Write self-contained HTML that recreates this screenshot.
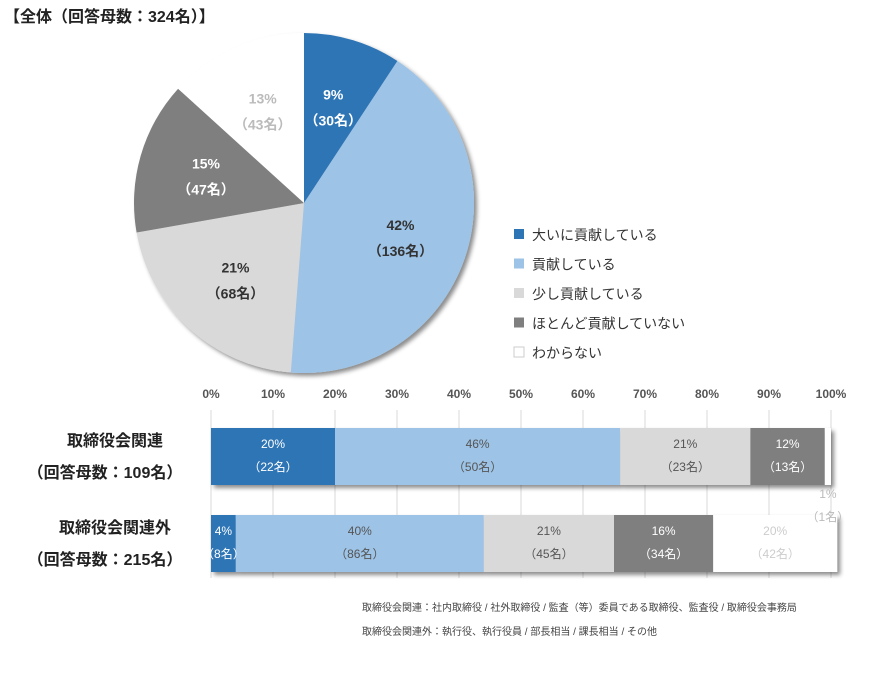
<!DOCTYPE html>
<html><head><meta charset="utf-8"><style>
body{margin:0;background:#fff;font-family:"Liberation Sans","Noto Sans CJK JP",sans-serif;}
svg text{font-family:"Liberation Sans","Noto Sans CJK JP",sans-serif;}
</style></head><body>
<svg id="c" width="886" height="675" xmlns="http://www.w3.org/2000/svg">
<defs><filter id="sh" x="-10%" y="-10%" width="130%" height="130%"><feDropShadow dx="3" dy="3" stdDeviation="2" flood-color="#000" flood-opacity="0.45"/></filter></defs>
<text x="4" y="22" font-size="16" font-weight="bold" fill="#222">【全体（回答母数：324名）】</text>
<g id="pie" filter="url(#sh)"></g>
<g id="pielabels"></g>
<g id="legend"></g>
<g id="grid"></g>
<g id="bars"></g>
<g id="barlabels"></g>
<text x="362" y="611" font-size="10" fill="#444">取締役会関連：社内取締役 / 社外取締役 / 監査（等）委員である取締役、監査役 / 取締役会事務局</text>
<text x="362" y="635" font-size="10" fill="#444">取締役会関連外：執行役、執行役員 / 部長相当 / 課長相当 / その他</text>
</svg>
<script>
const categories=["大いに貢献している","貢献している","少し貢献している","ほとんど貢献していない","わからない"];
const colors=["#2e75b6","#9dc3e6","#d9d9d9","#7f7f7f","#ffffff"];
const labelColors=["#fff","#333","#333","#fff","#bbb"];
const pieCounts=[30,136,68,47,43];
const piePcts=[9,42,21,15,13];
const groups=["取締役会関連","取締役会関連外"];
const groupN=[109,215];
const barPcts=[[20,46,21,12,1],[4,40,21,16,20]];
const barCounts=[[22,50,23,13,1],[8,86,45,34,42]];
const ticks=[0,10,20,30,40,50,60,70,80,90,100];
const NS="http://www.w3.org/2000/svg";
function mk(t,a,p){const e=document.createElementNS(NS,t);for(const k in a)e.setAttribute(k,a[k]);p.appendChild(e);return e;}
// pie
const cx=304,cy=203,R=170,total=pieCounts.reduce((a,b)=>a+b,0);
let ang=0;const pie=document.getElementById('pie'),pl=document.getElementById('pielabels');
pieCounts.forEach((v,i)=>{const a0=ang,a1=ang+v/total*2*Math.PI;ang=a1;
 const p=(a)=>[cx+R*Math.sin(a),cy-R*Math.cos(a)];const [x0,y0]=p(a0),[x1,y1]=p(a1);
 const e=mk('path',{d:`M${cx},${cy}L${x0},${y0}A${R},${R} 0 ${a1-a0>Math.PI?1:0} 1 ${x1},${y1}Z`,fill:colors[i]},pie);
 
 
 const m=(a0+a1)/2,r=R*0.6,lx=cx+r*Math.sin(m),ly=cy-r*Math.cos(m);
 const t1=mk('text',{x:lx,y:ly-6,'text-anchor':'middle','font-size':14,'font-weight':'bold',fill:labelColors[i]},pl);t1.textContent=piePcts[i]+'%';
 
 
 const t2=mk('text',{x:lx,y:ly+20,'text-anchor':'middle','font-size':14,'font-weight':'bold',fill:labelColors[i]},pl);t2.textContent='（'+v+'名）';
 
 
});
// legend
const lg=document.getElementById('legend');
categories.forEach((c,i)=>{const y=238+i*29.5;
 const r=mk('rect',{x:514,y:y-9,width:10,height:10,fill:colors[i],stroke:i==4?'#ccc':'none'},lg);
 
 
 const t=mk('text',{x:532,y:y+2,'font-size':14,fill:'#333'},lg);t.textContent=c;
 
 
});
// bar axis
const X0=211,X1=831,xs=v=>X0+(X1-X0)*v/100;
const gr=document.getElementById('grid');
ticks.forEach(t=>{const l=mk('line',{x1:xs(t),x2:xs(t),y1:410,y2:578,stroke:'#d9d9d9'},gr);
 
 
 const tx=mk('text',{x:xs(t),y:398,'text-anchor':'middle','font-size':12,'font-weight':'bold',fill:'#555'},gr);tx.textContent=t+'%';
 
 
});
const bg=document.getElementById('bars'),bl=document.getElementById('barlabels');
const barY=[428,515],barH=57;
groups.forEach((g,gi)=>{let acc=0;const y=barY[gi];
 const gg=mk('g',{filter:'url(#sh)'},bg);
 barPcts[gi].forEach((v,i)=>{const x=xs(acc);acc+=v;const w=xs(acc)-x;
  const r=mk('rect',{x:x,y:y,width:w,height:barH,fill:colors[i]},gg);
  
  
  let lx=x+w/2,ly=y+20,col=labelColors[i]=="#fff"&&i==0?'#fff':(i==3?'#fff':(i==4?'#ccc':'#555'));
  if(w<20){col='#bbb';if(i==0){lx=x-14;ly=y-20;col='#777';}else{lx=x+w/2;ly=y+70;}}
  const t1=mk('text',{x:lx,y:ly,'text-anchor':'middle','font-size':12,fill:col},bl);t1.textContent=v+'%';
  
  
  const t2=mk('text',{x:lx,y:ly+23,'text-anchor':'middle','font-size':12,fill:col},bl);t2.textContent='（'+barCounts[gi][i]+'名）';
  
  
 });
 const a=mk('text',{x:115,y:y+18,'text-anchor':'middle','font-size':16,'font-weight':'bold',fill:'#222'},bl);a.textContent=g;
 
 
 const b=mk('text',{x:105,y:y+50,'text-anchor':'middle','font-size':16,'font-weight':'bold',fill:'#222'},bl);b.textContent='（回答母数：'+groupN[gi]+'名）';
 
 
});
</script>
</body></html>
